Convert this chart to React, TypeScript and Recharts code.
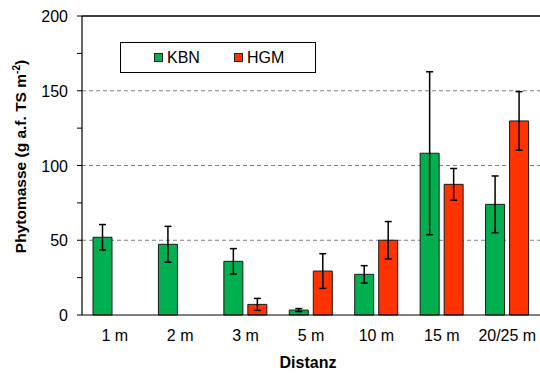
import React from 'react';
import {
  BarChart,
  Bar,
  XAxis,
  YAxis,
  CartesianGrid,
  ErrorBar,
  ReferenceLine,
  Legend,
} from 'recharts';

const FONT = '"Liberation Sans", Arial, sans-serif';

// Distance classes along the transect
const categories = ['1 m', '2 m', '3 m', '5 m', '10 m', '15 m', '20/25 m'];

// Mean phytomass and error per class
const kbnValues = [52, 47.3, 35.9, 3.3, 27.2, 108.2, 74];
const kbnErrors = [8.5, 12, 8.5, 1, 5.8, 54.5, 19];
const hgmValues: (number | null)[] = [null, null, 7.1, 29.4, 50, 87.4, 129.8];
const hgmErrors: (number | null)[] = [null, null, 4, 11.6, 12.5, 10.6, 19.6];

// Axis ticks: minor marks every 25, labels every 50
const yTicks = [0, 25, 50, 75, 100, 125, 150, 175, 200];
const yLabelStep = 50;
const gridValues = [50, 100, 150];

const seriesOrder = ['KBN', 'HGM'];
const KBN_COLOR = '#00B050';
const HGM_COLOR = '#FF3300';

const data = categories.map((cat, i) => ({
  cat,
  kbn: kbnValues[i],
  kbnErr: kbnErrors[i],
  hgm: hgmValues[i],
  hgmErr: hgmErrors[i],
}));

const YTick = (props: any) => {
  const { x, y, payload } = props;
  if (payload.value % yLabelStep !== 0) return <g />;
  return (
    <text x={x} y={y} dy={6} textAnchor="end" fontSize={16} fill="#000" fontFamily={FONT}>
      {payload.value}
    </text>
  );
};

const YLabel = (props: any) => {
  const { viewBox } = props;
  const cx = viewBox.x + 25.5;
  const cy = viewBox.y + viewBox.height / 2 - 9;
  return (
    <text
      transform={`translate(${cx},${cy}) rotate(-90)`}
      textAnchor="middle"
      fontSize={15.5}
      fontWeight="bold"
      fill="#000"
      fontFamily={FONT}
    >
      Phytomasse (g a.f. TS m
      <tspan fontSize={10} dy={-6}>-2</tspan>
      <tspan dy={6}>)</tspan>
    </text>
  );
};

const XLabel = (props: any) => {
  const { viewBox } = props;
  return (
    <text
      x={viewBox.x + viewBox.width / 2 - 3}
      y={viewBox.y + 53}
      textAnchor="middle"
      fontSize={16}
      fontWeight="bold"
      fill="#000"
      fontFamily={FONT}
    >
      Distanz
    </text>
  );
};

const LegendBox = (props: any) => {
  const items = [...(props.payload || [])].sort(
    (a: any, b: any) => seriesOrder.indexOf(a.value) - seriesOrder.indexOf(b.value)
  );
  return (
    <div
      style={{
        boxSizing: 'border-box',
        width: 196,
        height: 31,
        border: '1px solid #000',
        background: '#fff',
        display: 'flex',
        alignItems: 'center',
        paddingLeft: 33,
        fontFamily: FONT,
        fontSize: 16,
        color: '#000',
      }}
    >
      {items.map((it: any, i: number) => (
        <div
          key={it.value}
          style={{ display: 'flex', alignItems: 'center', marginLeft: i === 0 ? 0 : 34 }}
        >
          <span
            style={{
              display: 'inline-block',
              boxSizing: 'border-box',
              width: 9,
              height: 9,
              background: it.color,
              border: '1px solid #222',
              marginRight: 4,
            }}
          />
          <span style={{ lineHeight: '16px' }}>{it.value}</span>
        </div>
      ))}
    </div>
  );
};

export default function App() {
  return (
    <div style={{ position: 'absolute', left: 0, top: 0, width: 540, height: 374, background: '#fff' }}>
      <BarChart
        width={540}
        height={374}
        data={data}
        margin={{ top: 16, right: 0, bottom: 0, left: 0 }}
        barSize={19}
        barGap={5}
      >
        <CartesianGrid
          horizontal
          vertical={false}
          horizontalValues={gridValues}
          stroke="#808080"
          strokeDasharray="4 3"
        />
        <XAxis
          dataKey="cat"
          height={59}
          tickLine={false}
          tickSize={0}
          tickMargin={14.6}
          axisLine={{ stroke: '#000', strokeWidth: 1.2 }}
          tick={{ fontSize: 16, fill: '#000', fontFamily: FONT }}
          interval={0}
          label={<XLabel />}
        />
        <YAxis
          width={82}
          domain={[0, 200]}
          ticks={yTicks}
          interval={0}
          tickSize={5}
          tickMargin={9}
          axisLine={{ stroke: '#000', strokeWidth: 1.2 }}
          tickLine={{ stroke: '#000' }}
          tick={<YTick />}
          label={<YLabel />}
        />
        <ReferenceLine y={200} stroke="#000" strokeWidth={1.3} />
        <Legend
          content={<LegendBox />}
          layout="vertical"
          align="center"
          verticalAlign="middle"
          wrapperStyle={{ position: 'absolute', left: 120, top: 42, width: 196, height: 31 }}
        />
        <Bar dataKey="kbn" name="KBN" fill={KBN_COLOR} stroke="#1a1a1a" strokeWidth={1} isAnimationActive={false}>
          <ErrorBar dataKey="kbnErr" width={3.5} stroke="#000" strokeWidth={1.5} />
        </Bar>
        <Bar dataKey="hgm" name="HGM" fill={HGM_COLOR} stroke="#1a1a1a" strokeWidth={1} isAnimationActive={false}>
          <ErrorBar dataKey="hgmErr" width={3.5} stroke="#000" strokeWidth={1.5} />
        </Bar>
      </BarChart>
    </div>
  );
}
